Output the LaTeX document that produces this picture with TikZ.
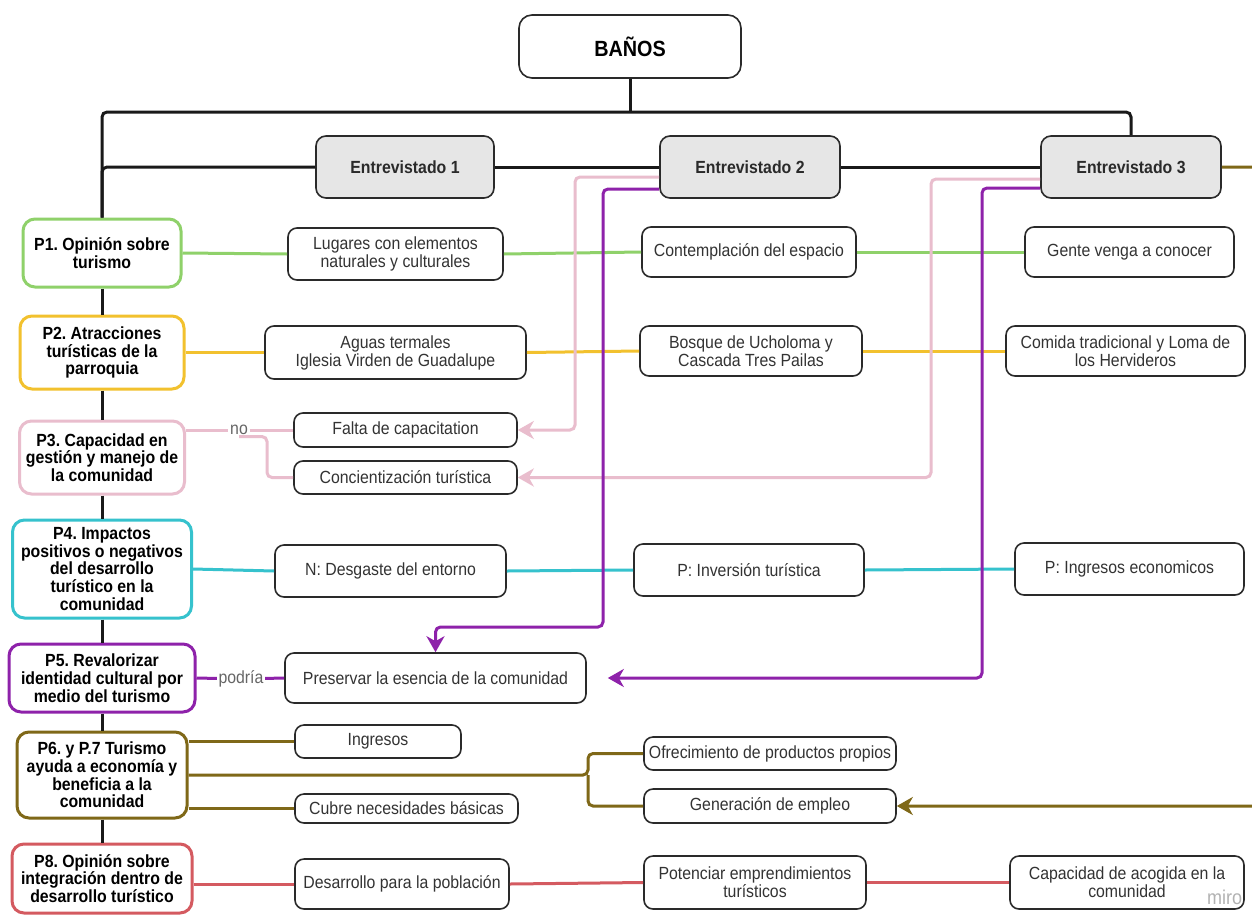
\documentclass[tikz,border=0pt]{standalone}
\usepackage{fontspec}
\setmainfont{Liberation Sans}[FakeStretch=0.9]
\usetikzlibrary{arrows.meta}
\frenchspacing
\definecolor{bdr}{HTML}{2A2A2A}
\definecolor{txt}{HTML}{333333}
\definecolor{egray}{HTML}{E6E6E6}
\definecolor{lblc}{HTML}{666666}
\definecolor{cgreen}{HTML}{8FD16A}
\definecolor{cyellow}{HTML}{F2C12E}
\definecolor{cpink}{HTML}{E9BDCD}
\definecolor{ccyan}{HTML}{36C2CD}
\definecolor{cpurp}{HTML}{8E22AA}
\definecolor{colive}{HTML}{7F6818}
\definecolor{cred}{HTML}{D45A60}
\tikzset{
 pbox/.style={draw=#1, line width=3pt, rounded corners=12pt, fill=white, align=center, text=black, font=\bfseries\fontsize{17.6}{17.7}\selectfont, inner sep=2pt},
 abox/.style={draw=bdr, line width=1.6pt, rounded corners=9pt, fill=white, align=center, text=txt, font=\fontsize{17.6}{18}\selectfont, inner sep=2pt},
 ebox/.style={draw=bdr, line width=1.6pt, rounded corners=10pt, fill=egray, align=center, text=bdr, font=\bfseries\fontsize{17.6}{18}\selectfont},
 blk/.style={line width=3pt, draw=black!90},
 conn/.style={line width=3pt, draw=#1},
 lbl/.style={text=lblc, font=\fontsize{17.6}{18}\selectfont, inner sep=1.5pt},
 tip/.style={-{Stealth[length=16pt,width=18pt,inset=5pt]}},
}
\begin{document}
\begin{tikzpicture}[x=1pt,y=-1pt]
\useasboundingbox (0,0) rectangle (1252,916);
\clip (0,0) rectangle (1252,916);
\fill[white] (0,0) rectangle (1252,916);

% top
\node[ebox, fill=white, rounded corners=13pt, minimum width=222pt, minimum height=63pt, font=\bfseries\fontsize{22}{24}\selectfont, text=black] (banos) at (630,46.5) {BAÑOS};
\node[ebox, minimum width=178pt, minimum height=62pt] (e1) at (405,167) {Entrevistado 1};
\node[ebox, minimum width=180pt, minimum height=62pt] (e2) at (750,167) {Entrevistado 2};
\node[ebox, minimum width=180pt, minimum height=62pt] (e3) at (1131,167) {Entrevistado 3};

% questions
\node[pbox=cgreen, minimum width=158pt, minimum height=68pt] (p1) at (102,253) {P1. Opinión sobre\\turismo};
\node[pbox=cyellow, minimum width=164pt, minimum height=73pt] (p2) at (102,352.5) {P2. Atracciones\\turísticas de la\\parroquia};
\node[pbox=cpink, minimum width=165pt, minimum height=73pt] (p3) at (102,457.5) {P3. Capacidad en\\gestión y manejo de\\la comunidad};
\node[pbox=ccyan, minimum width=179pt, minimum height=98pt] (p4) at (102,569) {P4. Impactos\\positivos o negativos\\del desarrollo\\turístico en la\\comunidad};
\node[pbox=cpurp, minimum width=186pt, minimum height=68pt] (p5) at (102,678) {P5. Revalorizar\\identidad cultural por\\medio del turismo};
\node[pbox=colive, minimum width=170pt, minimum height=86pt] (p6) at (102,775) {P6. y P.7 Turismo\\ayuda a economía y\\beneficia a la\\comunidad};
\node[pbox=cred, minimum width=180pt, minimum height=69pt] (p8) at (102,878.5) {P8. Opinión sobre\\integración dentro de\\desarrollo turístico};

% answers
\node[abox, minimum width=215pt, minimum height=52pt] (lug) at (395.5,254) {Lugares con elementos\\naturales y culturales};
\node[abox, minimum width=214pt, minimum height=50pt] (cont) at (749,252) {Contemplación del espacio};
\node[abox, minimum width=209pt, minimum height=50pt] (gente) at (1129.5,252) {Gente venga a conocer};
\node[abox, minimum width=261pt, minimum height=53pt] (aguas) at (395.5,352.5) {Aguas termales\\Iglesia Virden de Guadalupe};
\node[abox, minimum width=222pt, minimum height=50pt] (bosque) at (751,351) {Bosque de Ucholoma y\\Cascada Tres Pailas};
\node[abox, minimum width=239pt, minimum height=50pt] (comida) at (1125.5,351) {Comida tradicional y Loma de\\los Hervideros};
\node[abox, minimum width=223pt, minimum height=34pt] (falta) at (405.5,430) {Falta de capacitation};
\node[abox, minimum width=223pt, minimum height=33pt] (conc) at (405.5,477.5) {Concientización turística};
\node[abox, minimum width=231pt, minimum height=52pt] (desg) at (390.5,571) {N: Desgaste del entorno};
\node[abox, minimum width=230pt, minimum height=52pt] (inv) at (749,570) {P: Inversión turística};
\node[abox, minimum width=229pt, minimum height=52pt] (ingeco) at (1129.5,569) {P: Ingresos economicos};
\node[abox, minimum width=301pt, minimum height=50pt] (pres) at (435.5,678) {Preservar la esencia de la comunidad};
\node[abox, minimum width=166pt, minimum height=33pt] (ingr) at (378,741.5) {Ingresos};
\node[abox, minimum width=223pt, minimum height=29pt] (cubre) at (406.5,808.5) {Cubre necesidades básicas};
\node[abox, minimum width=252pt, minimum height=33pt, inner xsep=0.5pt] (ofre) at (770,753.5) {Ofrecimiento de productos propios};
\node[abox, minimum width=252pt, minimum height=34pt] (gen) at (770,806) {Generación de empleo};
\node[abox, minimum width=214pt, minimum height=50pt] (desa) at (402,884) {Desarrollo para la población};
\node[abox, minimum width=222pt, minimum height=53pt] (pot) at (755,882.5) {Potenciar emprendimientos\\turísticos};
\node[abox, minimum width=234pt, minimum height=53pt] (capac) at (1127,882.5) {Capacidad de acogida en la\\comunidad};

% labels
\node[lbl] (no) at (239,430) {no};
\node[lbl] (pod) at (241,679) {podría};

% helper coordinates
\coordinate (bar) at (630,112);
\coordinate (pk2) at (575,0);
\coordinate (pk3) at (931,0);
\coordinate (pv2) at (603,627);
\coordinate (pv3) at (982,678);
\coordinate (oc1) at (1268,167);
\coordinate (br) at (588,775);

% black tree
\draw[blk] (banos.south) -- (bar);
\draw[blk, rounded corners=5pt] (p1.north) |- (bar) -| (e3.north);
\draw[blk, rounded corners=5pt] (e1.west) -| (p1.north);
\draw[blk] (e1.east) -- (e2.west);
\draw[blk] (e2.east) -- (e3.west);
\draw[blk] (p1.south) -- (p2.north);
\draw[blk] (p2.south) -- (p3.north);
\draw[blk] (p3.south) -- (p4.north);
\draw[blk] (p4.south) -- (p5.north);
\draw[blk] (p5.south) -- (p6.north);
\draw[blk] (p6.south) -- (p8.north);

% green
\draw[conn=cgreen] (p1.east) -- (lug.west);
\draw[conn=cgreen] (lug.east) -- (cont.west);
\draw[conn=cgreen] (cont.east) -- (gente.west);
% yellow
\draw[conn=cyellow] (p2.east) -- (aguas.west);
\draw[conn=cyellow] (aguas.east) -- (bosque.west);
\draw[conn=cyellow] (bosque.east) -- (comida.west);
% pink
\draw[conn=cpink] (p3.east |- no) -- (no) -- (falta.west);
\draw[conn=cpink, rounded corners=5pt] (no.south) -- ++(28,0) |- (conc.west);
\draw[conn=cpink, tip, rounded corners=5pt] ([yshift=-10pt]e2.west) -| (pk2 |- falta.east) -- (falta.east);
\draw[conn=cpink, tip, rounded corners=5pt] ([yshift=-12pt]e3.west) -| (pk3 |- conc.east) -- (conc.east);
% cyan
\draw[conn=ccyan] (p4.east) -- (desg.west);
\draw[conn=ccyan] (desg.east) -- (inv.west);
\draw[conn=ccyan] (inv.east) -- (ingeco.west);
% purple
\draw[conn=cpurp] (p5.east) -- (pod) -- (pres.west);
\draw[conn=cpurp, tip, rounded corners=5pt] ([yshift=-22pt]e2.west) -| (pv2) -| (pres.north);
\draw[conn=cpurp, tip, rounded corners=5pt, shorten >=21pt] ([yshift=-21pt]e3.west) -| (pv3) -- (pres.east);
% olive
\draw[conn=colive] (p6.east |- ingr.west) -- (ingr.west);
\draw[conn=colive] (p6.east |- cubre.west) -- (cubre.west);
\draw[conn=colive, rounded corners=5pt] (p6.east) -- (br) |- (ofre.west);
\draw[conn=colive, rounded corners=5pt] (br) |- (gen.west);
\draw[conn=colive, tip, rounded corners=5pt] (e3.east) -- (oc1) -- (oc1 |- gen.east) -- (gen.east);
% red
\draw[conn=cred] (p8.east |- desa.west) -- (desa.west);
\draw[conn=cred] (desa.east) -- (pot.west);
\draw[conn=cred] (pot.east) -- (capac.west);

\node[text=black!30, font=\fontsize{20}{22}\selectfont, anchor=west, inner sep=0pt] (miro) at (1207,897) {miro};
\end{tikzpicture}
\end{document}
